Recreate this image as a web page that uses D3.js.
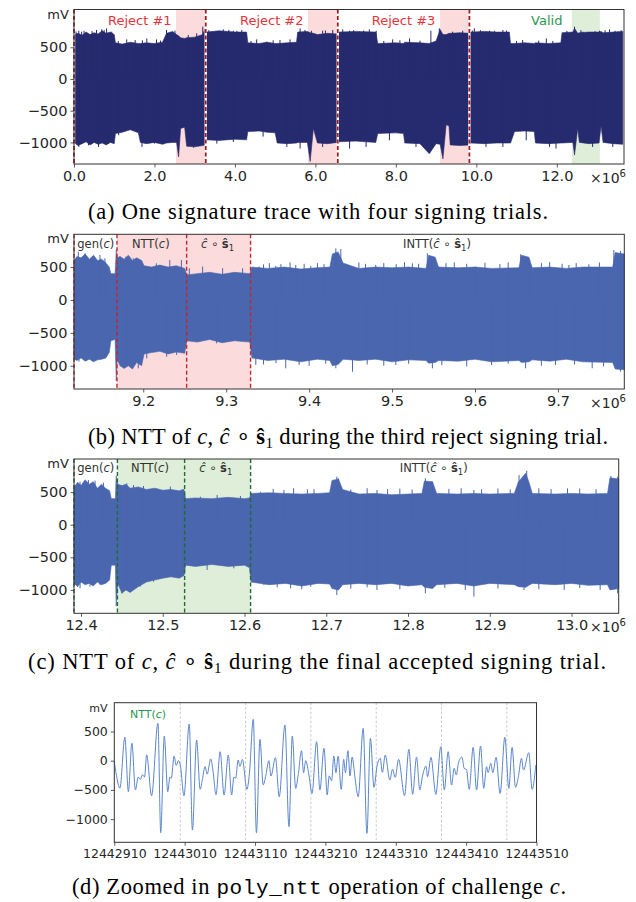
<!DOCTYPE html>
<html>
<head>
<meta charset="utf-8">
<script src="https://cdn.jsdelivr.net/npm/d3@7"></script>
<style>
  body { margin: 0; background: #fff; }
</style>
</head>
<body>
<svg id="fig"></svg>
<script>
// ---------------- data ----------------
// (a) whole signature trace, envelope: [sample / 1e6, upper mV, lower mV]
const traceA = [
  [0.00, 700, -1000], [0.10, 720, -1050], [0.20, 690, -1020], [0.30, 740, -990],
  [0.40, 700, -1040], [0.50, 730, -1000], [0.60, 710, -1030], [0.70, 760, -1010],
  [0.80, 720, -1040], [0.90, 740, -1000], [1.00, 700, -1020], [1.03, 570, -860],
  [1.20, 550, -840], [1.40, 580, -800], [1.60, 560, -850], [1.65, 560, -1000],
  [1.80, 570, -1020], [2.00, 560, -1000], [2.20, 580, -1030], [2.30, 720, -1010],
  [2.45, 750, -1000], [2.55, 700, -1000], [2.60, 680, -1230], [2.65, 650, -780],
  [2.75, 640, -760], [2.80, 650, -1060], [3.00, 660, -1070], [3.20, 700, -1050],
  [3.26, 800, -1040], [3.30, 740, -960], [3.60, 760, -970], [4.00, 740, -950],
  [4.29, 740, -960], [4.32, 570, -830], [4.60, 560, -820], [4.80, 580, -840],
  [5.00, 560, -850], [5.05, 560, -1010], [5.30, 570, -1020], [5.53, 580, -1010],
  [5.56, 740, -1000], [5.80, 750, -1000], [5.87, 730, -1300], [5.95, 720, -780],
  [6.05, 700, -1010], [6.30, 720, -1020], [6.55, 710, -1000], [6.60, 740, -990],
  [7.00, 750, -980], [7.50, 740, -1000], [7.55, 560, -860], [8.00, 570, -850],
  [8.19, 560, -860], [8.22, 580, -1010], [8.60, 570, -1020], [8.83, 560, -1180],
  [9.00, 600, -1020], [9.10, 780, -1030], [9.17, 700, -1260], [9.25, 700, -720],
  [9.32, 720, -740], [9.35, 720, -1040], [9.60, 730, -1050], [9.83, 720, -1040],
  [9.87, 740, -1010], [10.20, 750, -1020], [10.50, 740, -1010], [10.82, 740, -1010],
  [10.85, 560, -1010], [10.95, 560, -830], [11.20, 570, -820], [11.44, 560, -830],
  [11.47, 570, -1010], [11.80, 560, -1020], [12.10, 570, -1010], [12.13, 730, -1010],
  [12.40, 740, -1000], [12.44, 800, -1200], [12.52, 720, -780], [12.56, 730, -1000],
  [12.80, 740, -1020], [13.05, 740, -1010], [13.10, 750, -740], [13.15, 730, -1000],
  [13.40, 740, -1020], [13.64, 750, -1030]
];
// isolated spikes sticking out of the envelope: [sample / 1e6, mV]
const spikesUpA = [
  [0.05, 750], [0.12, 762], [0.19, 746], [0.25, 760], [0.45, 755], [0.56, 773],
  [0.69, 783], [0.75, 770], [0.81, 799], [0.94, 746], [1.10, 600], [1.31, 625],
  [1.52, 615], [1.70, 610], [1.81, 640], [2.05, 625], [2.15, 605], [2.30, 773],
  [2.51, 762], [2.84, 693], [3.05, 720], [3.20, 825], [3.35, 770], [3.46, 746],
  [3.71, 783], [3.85, 775], [3.96, 762], [4.05, 760], [4.17, 773], [4.40, 600],
  [4.54, 625], [4.79, 588], [4.95, 610], [5.12, 615], [5.37, 625], [5.62, 799],
  [5.74, 773], [5.90, 760], [6.18, 762], [6.25, 765], [6.43, 773], [6.68, 783],
  [6.85, 762], [6.95, 770], [7.09, 746], [7.20, 765], [7.34, 783], [7.51, 762],
  [7.70, 600], [7.92, 625], [8.10, 610], [8.34, 640], [8.60, 605], [8.87, 762],
  [9.08, 799], [9.41, 746], [9.66, 762], [9.90, 765], [9.95, 799], [10.10, 770],
  [10.33, 762], [10.45, 760], [10.66, 773], [10.75, 765], [11.00, 600], [11.15, 615],
  [11.55, 605], [11.74, 640], [11.90, 600], [12.15, 720], [12.25, 760], [12.44, 825],
  [12.60, 770], [12.65, 746], [12.95, 755], [13.06, 762], [13.20, 770], [13.31, 783],
  [13.45, 760], [13.52, 746], [13.60, 770]
];
const spikesDownA = [
  [0.12, -1072], [0.36, -1046], [0.61, -1072], [0.86, -1020], [1.11, -888], [1.69, -1072],
  [2.00, -1020], [2.39, -994], [2.97, -1083], [3.55, -1020], [3.96, -994], [4.70, -909],
  [5.29, -1072], [5.62, -1098], [6.18, -1072], [6.85, -1098], [7.26, -1072], [7.84, -967],
  [8.50, -1072], [10.24, -1072], [10.66, -1072], [11.24, -967], [11.82, -1072],
  [11.98, -1098], [12.89, -1072], [13.39, -1072]
];
const trialBoundsA = [0, 3.274, 6.556, 9.827];
const trialLabelsA = [["Reject #1", 1.637], ["Reject #2", 4.915], ["Reject #3", 8.19], ["Valid", 11.75]];
const rejectSpansA = [[2.536, 3.274], [5.817, 6.556], [9.099, 9.827]];
const validSpansA = [[12.373, 13.07]];

// (b) third rejected trial
const traceB = [
  [9.1165, 600, -900], [9.120, 660, -920], [9.125, 640, -880], [9.130, 700, -930],
  [9.135, 620, -900], [9.140, 680, -940], [9.145, 600, -910], [9.150, 620, -900],
  [9.155, 560, -880], [9.159, 500, -800], [9.161, 400, -620], [9.166, 400, -600],
  [9.1675, 760, -1230], [9.1685, 640, -900], [9.172, 660, -1000], [9.177, 620, -1040],
  [9.182, 680, -1000], [9.187, 600, -1050], [9.192, 640, -950], [9.198, 600, -1000],
  [9.201, 520, -820], [9.210, 500, -800], [9.220, 530, -780], [9.230, 500, -820],
  [9.240, 520, -790], [9.250, 480, -810], [9.2525, 380, -620], [9.265, 400, -640],
  [9.280, 420, -600], [9.295, 390, -650], [9.310, 420, -620], [9.3285, 400, -640],
  [9.331, 500, -880], [9.350, 480, -920], [9.370, 500, -900], [9.390, 470, -940],
  [9.410, 490, -900], [9.425, 500, -920], [9.428, 700, -1000], [9.435, 730, -980],
  [9.441, 560, -900], [9.460, 480, -920], [9.480, 500, -900], [9.500, 490, -940],
  [9.520, 500, -910], [9.541, 480, -920], [9.544, 680, -960], [9.552, 650, -950],
  [9.556, 500, -920], [9.580, 490, -930], [9.600, 500, -900], [9.620, 480, -940],
  [9.653, 490, -920], [9.656, 680, -950], [9.665, 650, -940], [9.669, 490, -910],
  [9.690, 500, -930], [9.710, 480, -900], [9.730, 500, -940], [9.766, 500, -950],
  [9.769, 720, -1050], [9.780, 700, -1060]
];
const spikesUpB = [
  [9.1217, 734], [9.1298, 709], [9.1398, 658], [9.1478, 684], [9.1538, 633],
  [9.1719, 658], [9.1792, 658], [9.1880, 633], [9.1980, 578], [9.2158, 557],
  [9.2320, 608], [9.2460, 608], [9.2555, 482], [9.2716, 507], [9.2957, 482],
  [9.3198, 482], [9.3397, 507], [9.3450, 540], [9.3520, 560], [9.3598, 517],
  [9.3660, 545], [9.3770, 570], [9.3839, 532], [9.3940, 550], [9.4020, 517],
  [9.4100, 560], [9.4180, 545], [9.4322, 785], [9.4382, 775], [9.4600, 570],
  [9.4680, 550], [9.4803, 532], [9.4900, 560], [9.5050, 545], [9.5150, 575],
  [9.5245, 557], [9.5320, 550], [9.5425, 709], [9.5486, 658], [9.5650, 560],
  [9.5750, 570], [9.5900, 550], [9.6008, 507], [9.6120, 565], [9.6300, 545],
  [9.6400, 570], [9.6550, 694], [9.6650, 633], [9.6800, 560], [9.6900, 575],
  [9.7050, 550], [9.7132, 532], [9.7220, 560], [9.7373, 542], [9.7500, 570],
  [9.7674, 760], [9.7755, 744]
];
const spikesDownB = [
  [9.1225, -938], [9.1426, -913], [9.1506, -887], [9.1800, -963], [9.1940, -1039],
  [9.2042, -887], [9.2282, -862], [9.2402, -836], [9.2684, -633], [9.2885, -659],
  [9.3085, -608], [9.3357, -988], [9.3450, -980], [9.3600, -960], [9.3718, -1039],
  [9.3879, -988], [9.4000, -1000], [9.4200, -970], [9.4322, -1039], [9.4523, -1090],
  [9.4700, -980], [9.4900, -1000], [9.5045, -988], [9.5200, -970], [9.5486, -1039],
  [9.5600, -990], [9.5767, -887], [9.5900, -1010], [9.6200, -990], [9.6400, -970],
  [9.6610, -1039], [9.6800, -1000], [9.6971, -988], [9.7200, -980], [9.7413, -1039],
  [9.7550, -1010], [9.7755, -1090]
];
const boundsB = [9.1165, 9.1683, 9.2523, 9.3294];
const opLabels = ["gen", "NTT", "hadamard", "INTT"];

// (c) final accepted trial
const traceC = [
  [12.3914, 580, -900], [12.396, 650, -950], [12.400, 600, -880], [12.405, 690, -920],
  [12.410, 620, -900], [12.415, 660, -940], [12.420, 560, -880], [12.425, 620, -920],
  [12.430, 560, -900], [12.435, 520, -850], [12.437, 400, -620], [12.442, 400, -620],
  [12.443, 750, -1250], [12.445, 620, -900], [12.450, 600, -1050], [12.455, 620, -1000],
  [12.460, 560, -1040], [12.470, 580, -950], [12.480, 540, -880], [12.490, 560, -850],
  [12.500, 530, -820], [12.510, 540, -800], [12.520, 520, -820], [12.526, 540, -780],
  [12.528, 400, -620], [12.540, 410, -640], [12.560, 400, -610], [12.580, 420, -640],
  [12.600, 400, -620], [12.606, 410, -660], [12.608, 480, -880], [12.630, 490, -920],
  [12.650, 480, -900], [12.670, 470, -940], [12.690, 480, -900], [12.704, 490, -910],
  [12.707, 680, -980], [12.715, 700, -1000], [12.720, 540, -920], [12.740, 470, -900],
  [12.760, 480, -920], [12.780, 460, -900], [12.800, 470, -940], [12.817, 480, -920],
  [12.820, 670, -960], [12.830, 660, -980], [12.835, 480, -920], [12.860, 470, -900],
  [12.880, 480, -940], [12.900, 470, -900], [12.930, 480, -920], [12.935, 660, -950],
  [12.944, 790, -960], [12.948, 650, -930], [12.952, 480, -900], [12.980, 470, -920],
  [13.000, 480, -900], [13.020, 470, -930], [13.044, 480, -920], [13.047, 720, -1000],
  [13.0577, 700, -980]
];
const spikesUpC = [
  [12.3988, 660], [12.4090, 686], [12.4172, 676], [12.4274, 645], [12.4478, 609],
  [12.4560, 635], [12.4642, 609], [12.4764, 594], [12.4929, 557], [12.5092, 584],
  [12.5235, 543], [12.5460, 430], [12.5665, 456], [12.5950, 440], [12.6196, 506],
  [12.6350, 550], [12.6482, 532], [12.6600, 560], [12.6769, 543], [12.6850, 545],
  [12.7129, 737], [12.7149, 711], [12.7300, 540], [12.7500, 560], [12.7620, 532],
  [12.7750, 545], [12.7900, 555], [12.8050, 540], [12.8212, 711], [12.8294, 660],
  [12.8500, 550], [12.8650, 560], [12.8806, 532], [12.8900, 545], [12.9100, 555],
  [12.9250, 540], [12.9358, 762], [12.9452, 829], [12.9600, 560], [12.9750, 545],
  [12.9951, 557], [13.0100, 555], [13.0300, 545], [13.0482, 747], [13.0564, 737]
];
const spikesDownC = [
  [12.3988, -976], [12.4110, -950], [12.4233, -925], [12.4499, -1053], [12.4560, -1002],
  [12.4724, -950], [12.4887, -874], [12.5542, -694], [12.5869, -669], [12.6237, -925],
  [12.6400, -960], [12.6564, -976], [12.6700, -990], [12.6810, -950], [12.7129, -1079],
  [12.7300, -980], [12.7500, -960], [12.7620, -1002], [12.7900, -990], [12.8212, -1053],
  [12.8450, -970], [12.8700, -1000], [12.8806, -1104], [12.9100, -980], [12.9419, -1002],
  [12.9600, -990], [12.9910, -1002], [13.0100, -970], [13.0350, -1000], [13.0564, -1053]
];
const boundsC = [12.3914, 12.4445, 12.5267, 12.6074];

// (d) zoomed poly_ntt: [sample offset from 12442910, mV] at turning points
const nttStart = 12442910;
const nttWave = [
  [0, -20], [3, -250], [8, -470], [15, 400], [20, -530], [25, 300], [30, -500],
  [34, -280], [37, -320], [40, -240], [43, -280], [46, 100], [53, -600], [62, 640],
  [66, -1233], [71, 420], [76, -530], [79, -280], [81, -300], [85, 80], [88, -80],
  [91, 0], [94, -90], [99, -600], [106.5, 628], [111, -1187], [117, 354], [122, -490],
  [125.5, -300], [129, -100], [132, -230], [137, 30], [140, -150], [144.5, -580],
  [150.4, 154], [156, -587], [162, 97], [166.7, -587], [170, -280], [172.4, -300],
  [176, 12], [178.5, -100], [182, 23], [188.5, -490], [192, -220], [197.5, 708],
  [202, -1233], [207, 366], [211.6, -416], [215, -274], [219.7, 0], [222.6, -262],
  [229, 51], [234.4, -616], [242.5, 611], [248.2, -1130], [253, 423], [257.7, -473],
  [261.4, -240], [266, 171], [269, -205], [272, 0], [276, -200], [281, -560],
  [287.5, 325], [292.2, -500], [298, 212], [302.6, -587], [305.4, -260], [308.8, -343],
  [312, 80], [315, -205], [318, 80], [322.5, -490], [326, 23], [328.5, -205],
  [332, 171], [335, -262], [338, 63], [342, -285], [346.6, -616], [353.7, 554],
  [359, -1244], [364, 383], [369, -456], [373.6, -74], [378, 40], [381, -200],
  [385, 97], [391.6, -331], [395.4, -148], [399.2, -285], [404, 23], [412.5, -600],
  [418.6, 194], [424, -575], [429.5, 63], [434.2, -500], [438, -262], [443, -91],
  [445.2, -274], [450, 57], [457, -575], [464, 240], [469, -500], [474.4, 154],
  [479.3, -416], [483, -131], [486, -245], [489, -45], [494, 63], [497.2, -131],
  [500.5, -150], [504.3, -490], [510, 228], [514.8, -500], [520.5, 251], [525, -473],
  [529, -103], [531.3, -205], [535, -45], [537.9, -205], [542.6, 57], [548.3, -560],
  [555, 400], [560.7, -473], [565.3, 228], [570.2, -456], [574, -290], [578.7, 40],
  [581.5, -160], [589, 137], [593.8, -490], [599, -74]
];
const nttGridD = [12443003.8, 12443096.6, 12443189.4, 12443282.2, 12443375.0, 12443467.8];
const yTicks = [-1000, -500, 0, 500];

// ---------------- drawing ----------------
const svg = d3.select("#fig").attr("width", 636).attr("height", 902)
  .style("font-family", "DejaVu Sans, sans-serif");
const TXT = "#262626", SPINE = "#333";
const minus = d => d3.format("d")(d).replace("-", "\u2212");

function frame(p) {
  const x = d3.scaleLinear().domain(p.xDomain).range([p.left, p.right]);
  const y = d3.scaleLinear().domain(p.yDomain).range([p.bottom, p.top]);
  return { x, y };
}

function axes(p, s, xTicks, xFmt, fs) {
  const gx = svg.append("g").attr("transform", `translate(0,${p.bottom})`)
    .call(d3.axisBottom(s.x).tickValues(xTicks).tickFormat(xFmt).tickSize(3.5).tickPadding(3));
  const gy = svg.append("g").attr("transform", `translate(${p.left},0)`)
    .call(d3.axisLeft(s.y).tickValues(yTicks).tickFormat(minus).tickSize(3.5).tickPadding(3));
  [gx, gy].forEach(g => {
    g.select(".domain").remove();
    g.selectAll("line").attr("stroke", SPINE).attr("stroke-width", 0.8);
    g.selectAll("text").attr("fill", TXT).style("font-size", fs + "px")
      .style("font-family", "DejaVu Sans, sans-serif");
  });
  svg.append("rect").attr("x", p.left).attr("y", p.top)
    .attr("width", p.right - p.left).attr("height", p.bottom - p.top)
    .attr("fill", "none").attr("stroke", SPINE).attr("stroke-width", 1);
  svg.append("text").attr("x", p.left - 16).attr("y", p.top + 9)
    .attr("text-anchor", "middle").attr("fill", TXT).style("font-size", (fs - 1.5) + "px").text("mV");
}

function offsetLabel(p, dy) {
  const t = svg.append("text").attr("x", 590).attr("y", p.bottom + dy)
    .attr("fill", TXT).style("font-size", "14px");
  t.append("tspan").text("\u00d710");
  t.append("tspan").attr("dy", -6).style("font-size", "10px").text("6");
}

function envelope(p, s, data, up, down, color) {
  const area = d3.area()
    .x(d => s.x(d[0])).y0(d => s.y(d[2])).y1(d => s.y(d[1]))
    .curve(d3.curveLinear);
  svg.append("path").datum(data).attr("d", area).attr("fill", color)
    .attr("stroke", color).attr("stroke-width", 0.6);
  svg.selectAll(null).data(up.concat(down)).enter().append("line")
    .attr("x1", d => s.x(d[0])).attr("x2", d => s.x(d[0]))
    .attr("y1", s.y(0)).attr("y2", d => s.y(d[1]))
    .attr("stroke", color).attr("stroke-width", 1);
}

function shade(p, s, spans, color) {
  svg.selectAll(null).data(spans).enter().append("rect")
    .attr("x", d => s.x(d[0])).attr("width", d => s.x(d[1]) - s.x(d[0]))
    .attr("y", p.top).attr("height", p.bottom - p.top).attr("fill", color);
}

function dashes(p, s, xs, color, w, white) {
  if (white) {
    svg.selectAll(null).data(xs).enter().append("line")
      .attr("x1", d => s.x(d)).attr("x2", d => s.x(d)).attr("y1", p.top).attr("y2", p.bottom)
      .attr("stroke", "#fff").attr("stroke-width", w + 0.6);
  }
  svg.selectAll(null).data(xs).enter().append("line")
    .attr("x1", d => s.x(d)).attr("x2", d => s.x(d)).attr("y1", p.top).attr("y2", p.bottom)
    .attr("stroke", color).attr("stroke-width", w).attr("stroke-dasharray", "4,2.5");
}

// op-label text: gen(c), NTT(c), ĉ∘ŝ1, INTT(ĉ∘ŝ1)
function opLabel(x, y, kind) {
  const t = svg.append("text").attr("x", x).attr("y", y).attr("text-anchor", "middle")
    .attr("fill", "#333").style("font-size", "11.5px");
  const hat = () => {
    t.append("tspan").style("font-style", "italic").text("\u0109");
    t.append("tspan").text(" \u2218 ");
    t.append("tspan").style("font-weight", "bold").text("\u015d");
    t.append("tspan").attr("dy", 3).style("font-size", "8.5px").text("1");
  };
  if (kind === "gen" || kind === "NTT") {
    t.append("tspan").text(kind === "gen" ? "gen(" : "NTT(");
    t.append("tspan").style("font-style", "italic").text("c");
    t.append("tspan").text(")");
  } else if (kind === "hadamard") {
    hat();
  } else {
    t.append("tspan").text("INTT(");
    hat();
    t.append("tspan").attr("dy", -3).text(")");
  }
  return t;
}

// ---- panel (a)
const pA = { left: 74, right: 624, top: 9.5, bottom: 164, xDomain: [0, 13.67], yDomain: [-1341, 1096] };
const sA = frame(pA);
shade(pA, sA, rejectSpansA, "#fbdbdb");
shade(pA, sA, validSpansA, "#dfeed9");
envelope(pA, sA, traceA, spikesUpA, spikesDownA, "#262a6e");
dashes(pA, sA, trialBoundsA, "#a11d22", 1.8, true);
svg.selectAll(null).data(trialLabelsA).enter().append("text")
  .attr("x", d => sA.x(d[1])).attr("y", 25).attr("text-anchor", "middle")
  .attr("fill", d => d[0] === "Valid" ? "#2a9650" : "#e8333a").style("font-size", "13px")
  .text(d => d[0]);
axes(pA, sA, [0, 2, 4, 6, 8, 10, 12], d3.format(".1f"), 14.5);
offsetLabel(pA, 18.5);

// ---- panel (b)
const pB = { left: 74, right: 624.3, top: 234.3, bottom: 389, xDomain: [9.1165, 9.780], yDomain: [-1353, 998] };
const sB = frame(pB);
shade(pB, sB, [[boundsB[1], boundsB[3]]], "#fbdbdb");
envelope(pB, sB, traceB, spikesUpB, spikesDownB, "#4a66ae");
dashes(pB, sB, boundsB, "#c1272d", 1.4, false);
const midsB = [95.8, 150.8, 217.5, 437];
opLabels.forEach((k, i) => opLabel(midsB[i], 247.5, k));
axes(pB, sB, [9.2, 9.3, 9.4, 9.5, 9.6, 9.7], d3.format(".1f"), 14.5);
offsetLabel(pB, 18.5);

// ---- panel (c)
const pC = { left: 74, right: 618.7, top: 459, bottom: 613.3, xDomain: [12.3914, 13.0577], yDomain: [-1359, 1008] };
const sC = frame(pC);
shade(pC, sC, [[boundsC[1], boundsC[3]]], "#dfeed9");
envelope(pC, sC, traceC, spikesUpC, spikesDownC, "#4a66ae");
dashes(pC, sC, boundsC, "#1f6a35", 1.4, false);
const midsC = [95.8, 150, 215.8, 433.8];
opLabels.forEach((k, i) => opLabel(midsC[i], 472, k));
axes(pC, sC, [12.4, 12.5, 12.6, 12.7, 12.8, 12.9, 13.0], d3.format(".1f"), 14.5);
offsetLabel(pC, 18.5);

// ---- panel (d)
const pD = { left: 114.3, right: 536.5, top: 702.7, bottom: 842.3, xDomain: [12442910, 12443510], yDomain: [-1397, 993] };
const sD = frame(pD);
svg.selectAll(null).data(nttGridD).enter().append("line")
  .attr("x1", d => sD.x(d)).attr("x2", d => sD.x(d)).attr("y1", pD.top).attr("y2", pD.bottom)
  .attr("stroke", "#bdbdbd").attr("stroke-width", 0.8).attr("stroke-dasharray", "2.5,2");
const line = d3.line().x(d => sD.x(nttStart + d[0])).y(d => sD.y(d[1])).curve(d3.curveMonotoneX);
svg.append("path").datum(nttWave).attr("d", line).attr("fill", "none")
  .attr("stroke", "#5b86cc").attr("stroke-width", 1);
const tD = svg.append("text").attr("x", 148).attr("y", 717.5).attr("text-anchor", "middle")
  .attr("fill", "#2a9650").style("font-size", "11px");
tD.append("tspan").text("NTT(");
tD.append("tspan").style("font-style", "italic").text("c");
tD.append("tspan").text(")");
axes(pD, sD, d3.range(12442910, 12443511, 100), d3.format("d"), 12.5);

// ---------------- captions ----------------
function caption(x, y, width, parts) {
  const t = svg.append("text").attr("x", x).attr("y", y).attr("fill", "#000")
    .attr("textLength", width).attr("lengthAdjust", "spacing")
    .style("font-family", "'Liberation Serif', 'Times New Roman', serif").style("font-size", "22.5px");
  parts.forEach(p => {
    const s = t.append("tspan").text(p.t);
    if (p.i) s.style("font-style", "italic");
    if (p.b) s.style("font-weight", "bold");
    if (p.m) s.style("font-family", "'Liberation Mono', monospace").style("font-size", "21px");
    if (p.dy) s.attr("dy", p.dy);
    if (p.fs) s.style("font-size", p.fs);
  });
  return t;
}
const hatParts = [{ t: "\u0109", i: 1 }, { t: " \u2218 " }, { t: "\u015d", b: 1 }, { t: "1", dy: 4, fs: "15px" }];
caption(88, 219, 460, [{ t: "(a) One signature trace with four signing trials." }]);
caption(88, 444, 520, [{ t: "(b) NTT of " }, { t: "c", i: 1 }, { t: ", " }, ...hatParts,
  { t: " during the third reject signing trial.", dy: -4 }]);
caption(28, 669, 578, [{ t: "(c) NTT of " }, { t: "c", i: 1 }, { t: ", " }, ...hatParts,
  { t: " during the final accepted signing trial.", dy: -4 }]);
caption(72, 894, 494, [{ t: "(d) Zoomed in " }, { t: "poly_ntt", m: 1 }, { t: " operation of challenge " }, { t: "c", i: 1 }, { t: "." }]);
</script>
</body>
</html>
